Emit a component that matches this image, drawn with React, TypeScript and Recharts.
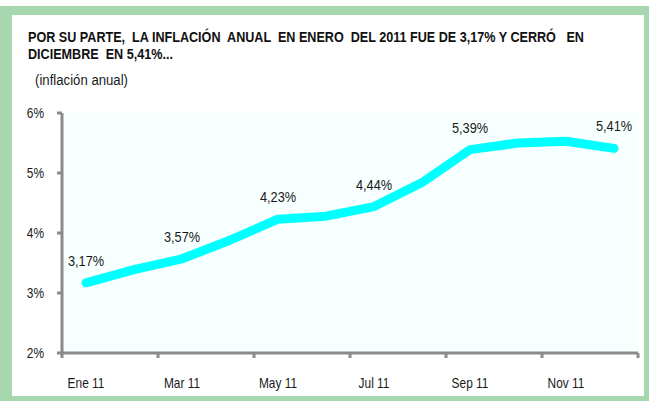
import React from 'react';
import { LineChart, Line, XAxis, YAxis, CartesianGrid, LabelList } from 'recharts';

const months = ['Ene 11', 'Feb 11', 'Mar 11', 'Abr 11', 'May 11', 'Jun 11', 'Jul 11', 'Ago 11', 'Sep 11', 'Oct 11', 'Nov 11', 'Dic 11'];
const inflation = [3.17, 3.39, 3.57, 3.88, 4.23, 4.28, 4.44, 4.84, 5.39, 5.5, 5.53, 5.41];
const labeledIdx = [0, 2, 4, 6, 8, 11];
const yTicks = [2, 3, 4, 5, 6];

const data = months.map((m, i) => ({ month: m, value: inflation[i] }));

const FONT = "'Liberation Sans', Arial, sans-serif";
const AXIS = '#8a8a8a';
const TXT = '#1a1a1a';
const SQ = 0.85;

const fmt = (v: number) => v.toFixed(2).replace('.', ',') + '%';

const NText = ({ x, y, anchor, size, children }: any) => (
  <text
    transform={`translate(${x},${y}) scale(${SQ},1)`}
    textAnchor={anchor}
    fill={TXT}
    fontSize={size}
    fontFamily={FONT}
  >
    {children}
  </text>
);

const XTick = (props: any) => {
  const { x, y, payload, index } = props;
  const i = payload?.index ?? index;
  const half = 24;
  return (
    <g>
      {i % 2 === 0 && (
        <>
          <line x1={x - half} x2={x - half} y1={y} y2={y + 5} stroke={AXIS} strokeWidth={3} />
          <NText x={x} y={y + 35} anchor="middle" size={14}>
            {payload.value}
          </NText>
        </>
      )}
      {i === months.length - 1 && (
        <line x1={x + half} x2={x + half} y1={y} y2={y + 5} stroke={AXIS} strokeWidth={3} />
      )}
    </g>
  );
};

const YTick = (props: any) => {
  const { x, y, payload } = props;
  return (
    <NText x={x} y={y + 5} anchor="end" size={14}>
      {`${payload.value}%`}
    </NText>
  );
};

const ValueLabel = (props: any) => {
  const { x, y, index, value } = props;
  if (!labeledIdx.includes(index)) return null;
  return (
    <NText x={x} y={y - 17} anchor="middle" size={15}>
      {fmt(value)}
    </NText>
  );
};

export default function App() {
  return (
    <div style={{ position: 'absolute', left: 0, top: 0, width: 649, height: 401, background: '#fff' }}>
      <div style={{ position: 'absolute', left: 0, top: 6, width: 649, height: 395, background: '#a7d7af' }} />
      <div style={{ position: 'absolute', left: 12, top: 15, width: 632, height: 381, background: '#fff' }} />
      <div
        style={{
          position: 'absolute',
          left: 28,
          top: 29,
          fontFamily: FONT,
          fontWeight: 'bold',
          fontSize: 14,
          lineHeight: '17px',
          color: '#111',
          whiteSpace: 'pre',
          transform: 'scaleX(0.9)',
          transformOrigin: '0 0',
        }}
      >
        {'POR SU PARTE,  LA INFLACIÓN  ANUAL  EN ENERO  DEL 2011 FUE DE 3,17% Y CERRÓ   EN\nDICIEMBRE  EN 5,41%...'}
      </div>
      <div
        style={{
          position: 'absolute',
          left: 35,
          top: 71,
          fontFamily: FONT,
          fontSize: 15.5,
          color: TXT,
          whiteSpace: 'pre',
          transform: `scaleX(${SQ})`,
          transformOrigin: '0 0',
        }}
      >
        (inflación anual)
      </div>
      <div style={{ position: 'absolute', left: 0, top: 0 }}>
        <LineChart width={649} height={401} data={data} margin={{ top: 113, right: 11, bottom: 18, left: 2 }}>
          <CartesianGrid horizontal={false} vertical={false} fill="#f7ffff" />
          <XAxis
            dataKey="month"
            padding={{ left: 24, right: 24 }}
            interval={0}
            tickLine={false}
            tickSize={0}
            tickMargin={0}
            height={30}
            axisLine={{ stroke: AXIS, strokeWidth: 3 }}
            tick={<XTick />}
          />
          <YAxis
            domain={[2, 6]}
            ticks={yTicks}
            width={60}
            tickSize={5}
            tickMargin={13}
            tickLine={{ stroke: AXIS, strokeWidth: 3 }}
            axisLine={{ stroke: AXIS, strokeWidth: 3 }}
            tick={<YTick />}
          />
          <Line
            type="linear"
            dataKey="value"
            stroke="#00ffff"
            strokeWidth={9}
            strokeLinecap="round"
            strokeLinejoin="round"
            dot={false}
            isAnimationActive={false}
          >
            <LabelList dataKey="value" content={<ValueLabel />} />
          </Line>
        </LineChart>
      </div>
    </div>
  );
}
